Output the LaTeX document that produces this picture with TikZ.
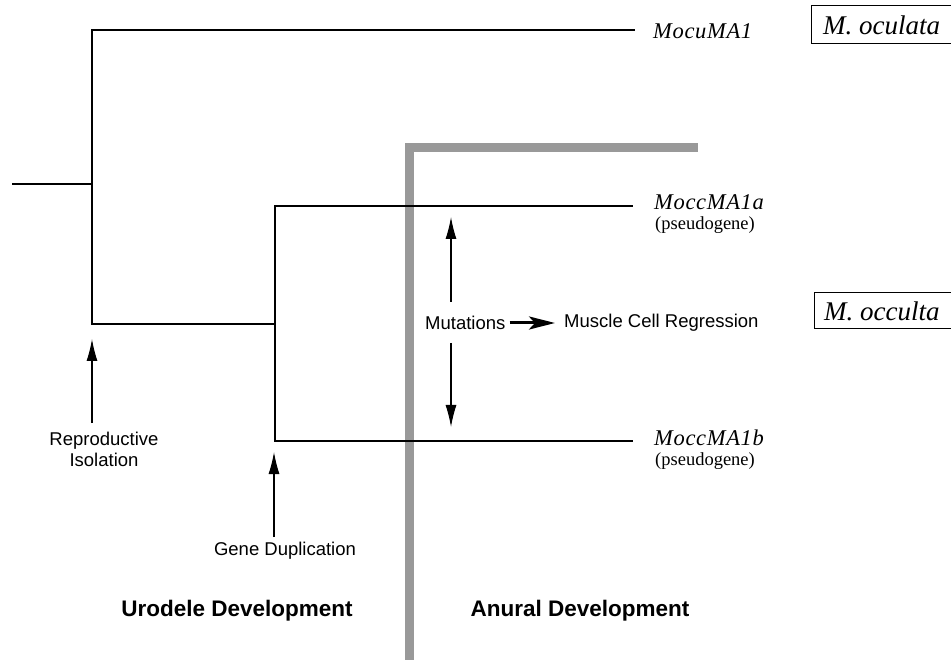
\documentclass[tikz,border=0pt]{standalone}
\usepackage{fontspec}
\setmainfont{Liberation Serif}
\setsansfont{Liberation Sans}
\usetikzlibrary{arrows.meta,calc}
\tikzset{
  branch/.style={line width=1.2pt, line cap=rect},
  gene/.style={font=\fontsize{22.5}{24}\selectfont\itshape\addfontfeature{LetterSpace=3}, anchor=west, inner sep=0pt},
  pseudo/.style={font=\fontsize{18.5}{20}\selectfont, anchor=west, inner sep=0pt},
  species/.style={font=\fontsize{27}{29}\selectfont\itshape, anchor=west, inner sep=0pt},
  event/.style={font=\sffamily\fontsize{18.5}{21}\selectfont, align=center, inner sep=0pt},
  heading/.style={font=\sffamily\bfseries\fontsize{22.5}{25}\selectfont, inner sep=0pt},
  evarrow/.style={line width=1.1pt, -{Latex[length=22pt,width=11pt]}},
  barline/.style={line width=9pt, draw=black!40},
}
\begin{document}
\begin{tikzpicture}[x=1pt,y=-1pt]
\useasboundingbox (0,0) rectangle (951,660);
% gray boundary
\draw[barline] (409,660) -- (409,147.5) -- (698,147.5);
% tree
\coordinate (root) at (13,184);
\coordinate (n1) at (92,184);
\coordinate (n1t) at (92,30);
\coordinate (n1b) at (92,324);
\coordinate (n2) at (275,324);
\coordinate (n2t) at (275,206);
\coordinate (n2b) at (275,441);
\coordinate (e1) at (634,30);
\coordinate (e2) at (632,206);
\coordinate (e3) at (632,441);
\draw[branch] (root) -- (n1);
\draw[branch] (e1) -- (n1t) -- (n1b) -- (n2);
\draw[branch] (e2) -- (n2t) -- (n2b) -- (e3);
% gene labels
\node[gene] (g1) at (653,31) {MocuMA1};
\node[gene] (g2) at (654,202) {MoccMA1a};
\node[pseudo] (p2) at (655,225) {(pseudogene)};
\node[gene] (g3) at (654,438) {MoccMA1b};
\node[pseudo] (p3) at (655,461) {(pseudogene)};
% species boxes
\draw[line width=0.9pt] (960,5) -- (811,5) -- (811,43) -- (960,43);
\node[species] (s1) at (823,25) {M. oculata};
\draw[line width=0.9pt] (960,292) -- (814,292) -- (814,328) -- (960,328);
\node[species] (s2) at (824,311) {M. occulta};
% events
\node[event] (ri) at (104,449) {Reproductive\\Isolation};
\coordinate (riT) at (92,339);
\draw[evarrow] (92,423) -- (riT);
\node[event] (gd) at (285,551) {Gene Duplication};
\coordinate (gdT) at (274,452);
\draw[evarrow] (274,537) -- (gdT);
% mutations
\node[event, anchor=west] (mut) at (425,323) {Mutations};
\node[event, anchor=west] (mcr) at (564,323) {Muscle Cell Regression};
\draw[line width=3pt, -{Stealth[length=26pt,width=13pt,inset=6pt]}] ($(mut.east)+(4,0)$) -- ($(mcr.west)+(-9,0)$);
\coordinate (mu1) at (451,302);
\coordinate (mu1t) at (451,217);
\coordinate (mu2) at (451,343);
\coordinate (mu2t) at (451,427);
\draw[evarrow] (mu1) -- (mu1t);
\draw[evarrow] (mu2) -- (mu2t);
% headings
\node[heading] (uro) at (237,611) {Urodele Development};
\node[heading] (anu) at (580,611) {Anural Development};
\end{tikzpicture}
\end{document}
